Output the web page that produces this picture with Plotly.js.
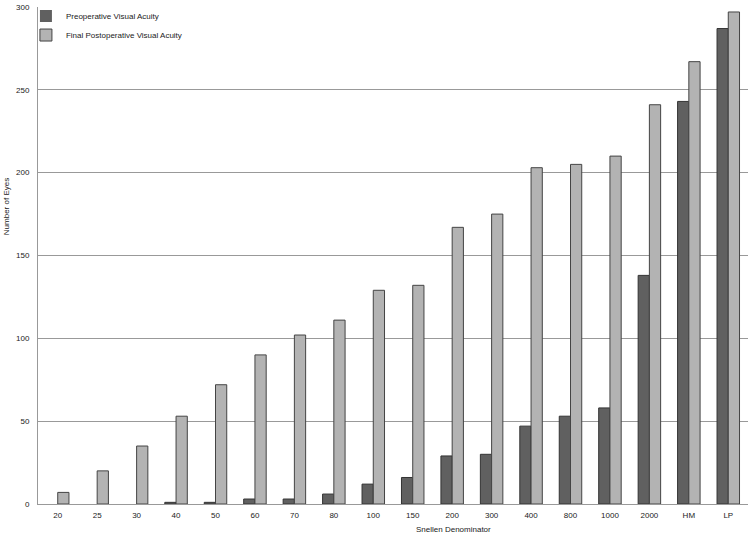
<!DOCTYPE html>
<html><head><meta charset="utf-8">
<script src="https://cdn.plot.ly/plotly-3.0.1.min.js"></script>
<style>html,body{margin:0;padding:0;background:#fff}</style>
</head><body><div id="chart" style="width:750px;height:536px"></div>
<script>
const categories = ["20","25","30","40","50","60","70","80","100","150","200","300","400","800","1000","2000","HM","LP"];
const preoperative = [0,0,0,1,1,3,3,6,12,16,29,30,47,53,58,138,243,287];
const postoperative = [7,20,35,53,72,90,102,111,129,132,167,175,203,205,210,241,267,297];
const yTicks = [0,50,100,150,200,250,300];

const font = {family:"Liberation Sans, Arial, sans-serif", size:8, color:"#222"};
const outline = vals => vals.map(v => v > 0 ? 1 : 0);
const data = [
  {type:"bar", name:"Preoperative Visual Acuity", x:categories, y:preoperative,
   marker:{color:"#606060", line:{color:"#333", width:outline(preoperative)}}},
  {type:"bar", name:"Final Postoperative Visual Acuity", x:categories, y:postoperative,
   marker:{color:"#b3b3b3", line:{color:"#444", width:outline(postoperative)}}}
];
const layout = {
  width:750, height:536,
  margin:{l:38, r:2, t:5, b:32},
  paper_bgcolor:"#fff", plot_bgcolor:"#fff",
  font:font,
  barmode:"group", bargap:0.43, bargroupgap:0,
  showlegend:true,
  legend:{x:-0.017, y:1.011, xanchor:"left", yanchor:"top", bgcolor:"rgba(0,0,0,0)", font:font, itemwidth:30},
  xaxis:{type:"category", showgrid:false, showline:true, linecolor:"#999", linewidth:1, ticks:"", tickfont:font, ticklabelstandoff:3},
  yaxis:{range:[0,300], tickvals:yTicks, showgrid:true, gridcolor:"#999", gridwidth:1, showline:true, linecolor:"#999", zeroline:false, ticks:"", tickfont:font, ticklabelstandoff:6},
  annotations:[
    {text:"Snellen Denominator", xref:"paper", yref:"paper", x:(453-38)/710, y:(504-530)/499, xanchor:"center", yanchor:"middle", showarrow:false, font:font},
    {text:"Number of Eyes", xref:"paper", yref:"paper", x:(6-38)/710, y:(504-206)/499, xanchor:"center", yanchor:"middle", textangle:-90, showarrow:false, font:font}
  ]
};
Plotly.newPlot("chart", data, layout, {displayModeBar:false, staticPlot:true});
</script></body></html>
